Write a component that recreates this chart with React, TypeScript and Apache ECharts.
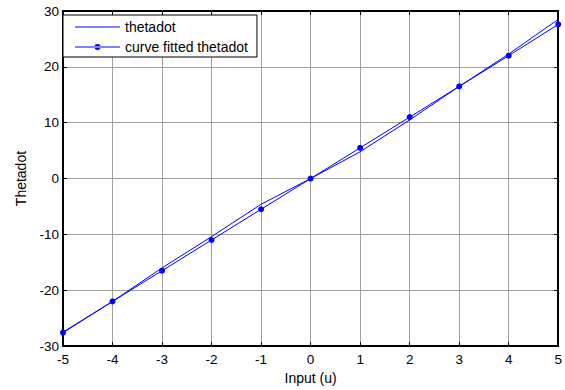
import React, { useEffect, useRef } from "react";
import * as echarts from "echarts";

// Input values u
const inputs = [-5, -4, -3, -2, -1, 0, 1, 2, 3, 4, 5];
// Measured thetadot
const thetadot = [-27.5, -22, -16, -10.4, -4.6, 0, 4.8, 10.5, 16.5, 22.3, 28.5];
// Curve fitted thetadot
const fitted = [-27.6, -22, -16.5, -11, -5.5, 0, 5.5, 11, 16.5, 22, 27.6];

const xTicks = [-5, 5, 1];
const yTicks = [-30, 30, 10];

const FONT = "Liberation Sans, Arial, sans-serif";

// Legend glyphs: a plain line, and a line with a dot in the middle
const LINE_ICON = "path://M0,0 M45,14 M0,6.5 H45 V7.5 H0 Z";
const DOT_LINE_ICON =
  "path://M0,0 M45,14 M0,6.5 H45 V7.5 H0 Z M19.5,7 A3,3 0 1,0 25.5,7 A3,3 0 1,0 19.5,7 Z";

export default function App() {
  const ref = useRef<HTMLDivElement>(null);

  useEffect(() => {
    if (!ref.current) return;
    const chart = echarts.init(ref.current, undefined, { renderer: "svg" });
    const tickStyle = { show: true, inside: true, length: 4, lineStyle: { color: "#000", width: 1 } };
    const frameLine = { show: true, onZero: false, lineStyle: { color: "#000", width: 2 } };
    const labelStyle = { fontFamily: FONT, fontSize: 13.5, color: "#000" };
    chart.setOption({
      animation: false,
      backgroundColor: "#fff",
      textStyle: { fontFamily: FONT },
      grid: {
        left: 63,
        right: 6,
        top: 11,
        bottom: 40,
        show: true,
        borderColor: "#000",
        borderWidth: 1,
      },
      legend: {
        left: 63,
        top: 15,
        orient: "vertical",
        backgroundColor: "#fff",
        borderColor: "#000",
        borderWidth: 1,
        borderRadius: 0,
        padding: [5, 9, 3, 12],
        itemGap: 6,
        itemWidth: 45,
        itemHeight: 14,
        symbolKeepAspect: false,
        textStyle: { fontFamily: FONT, fontSize: 14, color: "#000" },
        data: [
          { name: "thetadot", icon: LINE_ICON },
          { name: "curve fitted thetadot", icon: DOT_LINE_ICON },
        ],
      },
      xAxis: [
        {
          type: "value",
          min: xTicks[0],
          max: xTicks[1],
          interval: xTicks[2],
          name: "Input (u)",
          nameLocation: "middle",
          nameGap: 22,
          nameTextStyle: { fontFamily: FONT, fontSize: 14, color: "#000" },
          axisLine: frameLine,
          axisTick: tickStyle,
          axisLabel: { ...labelStyle, margin: 6 },
          splitLine: { show: true, lineStyle: { color: "#a0a0a0", width: 1 } },
        },
        {
          type: "value",
          position: "top",
          min: xTicks[0],
          max: xTicks[1],
          interval: xTicks[2],
          axisLine: frameLine,
          axisTick: tickStyle,
          axisLabel: { show: false },
          splitLine: { show: false },
        },
      ],
      yAxis: [
        {
          type: "value",
          min: yTicks[0],
          max: yTicks[1],
          interval: yTicks[2],
          name: "Thetadot",
          nameLocation: "middle",
          nameGap: 35,
          nameTextStyle: { fontFamily: FONT, fontSize: 14, color: "#000" },
          axisLine: frameLine,
          axisTick: tickStyle,
          axisLabel: { ...labelStyle, margin: 4 },
          splitLine: { show: true, lineStyle: { color: "#a0a0a0", width: 1 } },
        },
        {
          type: "value",
          position: "right",
          min: yTicks[0],
          max: yTicks[1],
          interval: yTicks[2],
          axisLine: frameLine,
          axisTick: tickStyle,
          axisLabel: { show: false },
          splitLine: { show: false },
        },
      ],
      series: [
        {
          name: "thetadot",
          type: "line",
          data: inputs.map((u, i) => [u, thetadot[i]]),
          symbol: "none",
          lineStyle: { color: "#0000ff", width: 1 },
          itemStyle: { color: "#0000ff" },
        },
        {
          name: "curve fitted thetadot",
          type: "line",
          data: inputs.map((u, i) => [u, fitted[i]]),
          symbol: "circle",
          symbolSize: 6,
          lineStyle: { color: "#0000ff", width: 1 },
          itemStyle: { color: "#0000ff" },
        },
      ],
    });
    return () => chart.dispose();
  }, []);

  return (
    <div
      ref={ref}
      style={{ position: "fixed", left: 0, top: 0, width: 565, height: 390 }}
    />
  );
}
